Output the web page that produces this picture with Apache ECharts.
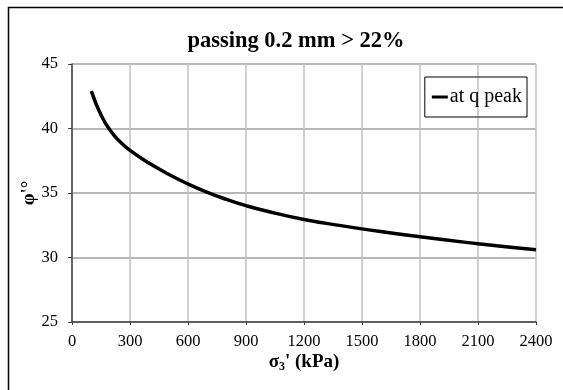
<!DOCTYPE html>
<html><head><meta charset="utf-8">
<script src="https://cdn.jsdelivr.net/npm/echarts@6/dist/echarts.min.js"></script>
<style>html,body{margin:0;padding:0;background:#fff}#c{width:563px;height:390px}</style>
</head><body><div id="c"></div>
<script>
const titleText = "passing 0.2 mm > 22%";
const seriesName = "at q peak";
const sigma3 = [100, 150, 200, 250, 300, 400, 500, 600, 700, 800, 900, 1000, 1200, 1400, 1500, 1800, 2100, 2400];
const phi    = [42.9, 41.05, 39.8, 38.95, 38.3, 37.3, 36.45, 35.7, 35.05, 34.5, 34.02, 33.62, 32.95, 32.45, 32.22, 31.6, 31.07, 30.6];
const xTicks = [0, 300, 600, 900, 1200, 1500, 1800, 2100, 2400];
const yTicks = [25, 30, 35, 40, 45];

const font = "'Liberation Serif', 'Times New Roman', serif";
const chart = echarts.init(document.getElementById('c'), null, {renderer: 'canvas'});
chart.setOption({
  animation: false,
  backgroundColor: '#fff',
  title: {text: titleText, left: 291, top: 25, textAlign: 'center',
    textStyle: {fontFamily: font, fontWeight: 'bold', fontSize: 22.5, color: '#000'}},
  graphic: [{type: 'rect', shape: {x: 8.5, y: 7.5, width: 600, height: 400},
    style: {fill: 'none', stroke: '#000', lineWidth: 1.5}, silent: true}],
  grid: {left: 72, right: 27, top: 64, bottom: 68},
  legend: {data: [seriesName], right: 36, top: 77, orient: 'vertical',
    borderColor: '#000', borderWidth: 1, padding: [10, 5, 10, 7], itemWidth: 16, itemHeight: 3, itemGap: 0,
    icon: 'rect',
    textStyle: {fontFamily: font, fontSize: 20, color: '#000', padding: [0, 0, 0, -3]}},
  xAxis: {type: 'value', min: xTicks[0], max: xTicks[xTicks.length - 1], interval: 300,
    name: '{s|σ}{sub|3}{s|\' (kPa)}', nameLocation: 'middle', nameGap: 30, nameMoveOverlap: false,
    nameTextStyle: {rich: {
      s: {fontFamily: font, fontWeight: 'bold', fontSize: 19, color: '#000'},
      sub: {fontFamily: font, fontWeight: 'bold', fontSize: 12, color: '#000', verticalAlign: 'bottom', padding: [9, 0, 0, 0]}}},
    axisLine: {show: true, lineStyle: {color: '#404040', width: 1.5}},
    axisTick: {show: true, length: 3, lineStyle: {color: '#404040'}},
    axisLabel: {fontFamily: font, fontSize: 16.5, color: '#000', margin: 11, formatter: v => String(v)},
    splitLine: {show: true, lineStyle: {color: '#c0c0c0', width: 1.5}}},
  yAxis: {type: 'value', min: yTicks[0], max: yTicks[yTicks.length - 1], interval: 5,
    name: "φ'°", nameLocation: 'middle', nameGap: 33, nameRotate: 90, nameMoveOverlap: false,
    nameTextStyle: {fontFamily: font, fontWeight: 'bold', fontSize: 19, color: '#000'},
    axisLine: {show: true, lineStyle: {color: '#404040', width: 1.5}},
    axisTick: {show: true, length: 4, lineStyle: {color: '#404040'}},
    axisLabel: {fontFamily: font, fontSize: 16.5, color: '#000', margin: 14, formatter: v => String(v)},
    splitLine: {show: true, lineStyle: {color: '#a0a0a0', width: 1.5}}},
  series: [{name: seriesName, type: 'line', smooth: 0.5, showSymbol: false,
    data: sigma3.map((s, i) => [s, phi[i]]),
    lineStyle: {color: '#000', width: 3.5}, itemStyle: {color: '#000'}}]
});
</script></body></html>
